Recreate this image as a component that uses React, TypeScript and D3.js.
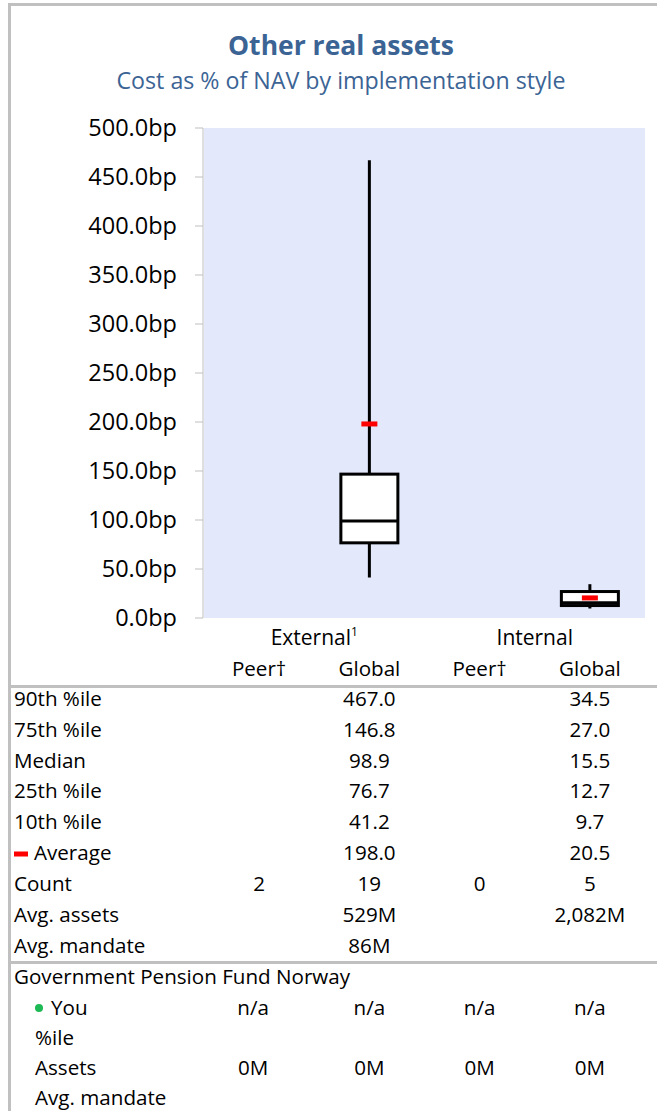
import React from "react";
import * as d3 from "d3";

const columns = ["ExtPeer", "ExtGlobal", "IntPeer", "IntGlobal"];
const groups = [
  { label: "External", sup: "1", cols: ["ExtPeer", "ExtGlobal"] },
  { label: "Internal", sup: "", cols: ["IntPeer", "IntGlobal"] },
];
const colHeaders = ["Peer†", "Global", "Peer†", "Global"];
const yTicks = [0, 50, 100, 150, 200, 250, 300, 350, 400, 450, 500];

// box stats (bp) per column, null = no box
const p90 = [null, 467.0, null, 34.5];
const p75 = [null, 146.8, null, 27.0];
const median = [null, 98.9, null, 15.5];
const p25 = [null, 76.7, null, 12.7];
const p10 = [null, 41.2, null, 9.7];
const average = [null, 198.0, null, 20.5];
const counts = ["2", "19", "0", "5"];
const avgAssets = ["", "529M", "", "2,082M"];
const avgMandate = ["", "86M", "", ""];
const youValues = ["n/a", "n/a", "n/a", "n/a"];
const youPctile = ["", "", "", ""];
const youAssets = ["0M", "0M", "0M", "0M"];
const youMandate = ["", "", "", ""];

const fmt = (v: number | null) => (v == null ? "" : v.toFixed(1));

const FONT = "'Open Sans', Lato, sans-serif";
const BLUE = "#3B6495";
const TS = 20.6;

export default function App() {
  const W = 657, H = 1111;
  const plot = { left: 204, right: 645, top: 128, bottom: 618 };
  const y = d3.scaleLinear().domain([0, 500]).range([plot.bottom, plot.top]);
  const x = d3.scaleBand().domain(columns).range([plot.left, plot.right]).padding(0);
  const cx = (c: string) => (x(c) as number) + x.bandwidth() / 2;
  const boxW = 57;

  const statRows: { label: string; vals: string[]; marker?: boolean }[] = [
    { label: "90th %ile", vals: p90.map(fmt) },
    { label: "75th %ile", vals: p75.map(fmt) },
    { label: "Median", vals: median.map(fmt) },
    { label: "25th %ile", vals: p25.map(fmt) },
    { label: "10th %ile", vals: p10.map(fmt) },
    { label: "Average", vals: average.map(fmt), marker: true },
    { label: "Count", vals: counts },
    { label: "Avg. assets", vals: avgAssets },
    { label: "Avg. mandate", vals: avgMandate },
  ];
  const youRows: { label: string; vals: string[]; dot?: boolean }[] = [
    { label: "You", vals: youValues, dot: true },
    { label: "%ile", vals: youPctile },
    { label: "Assets", vals: youAssets },
    { label: "Avg. mandate", vals: youMandate },
  ];
  const rowStart = 699;
  const rowH = 30.9;

  return (
    <svg width={W} height={H} style={{ display: "block", position: "absolute", left: 0, top: 0 }} fontFamily={FONT}>
      <rect x={0} y={0} width={W} height={H} fill="#fff" />
      {/* frame */}
      <rect x={8} y={3} width={W - 8} height={3} fill="#C0C0C0" />
      <rect x={8} y={3} width={3} height={H - 3} fill="#C0C0C0" />

      {/* titles */}
      <text x={341} y={55} textAnchor="middle" fontSize={26.5} fontWeight="bold" fill={BLUE}>Other real assets</text>
      <text x={341} y={89} textAnchor="middle" fontSize={23.2} fill={BLUE}>Cost as % of NAV by implementation style</text>

      {/* plot bg */}
      <rect x={plot.left} y={plot.top} width={plot.right - plot.left} height={plot.bottom - plot.top} fill="#E3E8FB" />
      {/* axis */}
      <line x1={plot.left - 1} x2={plot.left - 1} y1={plot.top} y2={plot.bottom} stroke="#BFBFBF" strokeWidth={1} />
      {yTicks.map((t) => (
        <g key={t}>
          <line x1={plot.left - 9} x2={plot.left - 1} y1={y(t)} y2={y(t)} stroke="#BFBFBF" strokeWidth={1} />
          <text x={177} y={y(t)} dy="0.33em" textAnchor="end" fontSize={23.5} fill="#000">{t.toFixed(1)}bp</text>
        </g>
      ))}

      {/* boxes */}
      {columns.map((c, i) => {
        if (p90[i] == null) return null;
        const xc = cx(c);
        return (
          <g key={c}>
            <line x1={xc} x2={xc} y1={y(p90[i] as number)} y2={y(p10[i] as number)} stroke="#000" strokeWidth={3} />
            <rect x={xc - boxW / 2} y={y(p75[i] as number)} width={boxW} height={y(p25[i] as number) - y(p75[i] as number)} fill="#fff" stroke="#000" strokeWidth={3} />
            <line x1={xc - boxW / 2} x2={xc + boxW / 2} y1={y(median[i] as number)} y2={y(median[i] as number)} stroke="#000" strokeWidth={3} />
            <rect x={xc - 8} y={y(average[i] as number) - 2.5} width={16} height={5} fill="#FF0000" />
          </g>
        );
      })}

      {/* group labels */}
      {groups.map((g) => {
        const gx = (cx(g.cols[0]) + cx(g.cols[1])) / 2;
        return (
          <text key={g.label} x={gx} y={645} textAnchor="middle" fontSize={21} fill="#000">
            {g.label}
            {g.sup && <tspan fontSize={12} dy={-9}>{g.sup}</tspan>}
          </text>
        );
      })}
      {columns.map((c, i) => (
        <text key={c} x={cx(c)} y={676} textAnchor="middle" fontSize={TS} fill="#000">{colHeaders[i]}</text>
      ))}

      {/* separators */}
      <rect x={11} y={685} width={W - 11} height={3} fill="#C0C0C0" />
      <rect x={11} y={961} width={W - 11} height={3} fill="#C0C0C0" />

      {/* stats rows */}
      {statRows.map((r, ri) => {
        const yy = rowStart + ri * rowH;
        return (
          <g key={r.label}>
            {r.marker && <rect x={14} y={yy - 2} width={14} height={5} fill="#FF0000" />}
            <text x={r.marker ? 34 : 14} y={yy} dy="0.33em" fontSize={TS} fill="#000">{r.label}</text>
            {r.vals.map((v, ci) => (
              <text key={ci} x={cx(columns[ci])} y={yy} dy="0.33em" textAnchor="middle" fontSize={TS} fill="#000">{v}</text>
            ))}
          </g>
        );
      })}

      <text x={14} y={977} dy="0.33em" fontSize={TS} fill="#000">Government Pension Fund Norway</text>
      {youRows.map((r, ri) => {
        const yy = 1008 + ri * 30.1;
        return (
          <g key={r.label}>
            {r.dot && <circle cx={39} cy={yy} r={4} fill="#1DB954" />}
            <text x={r.dot ? 51 : 35} y={yy} dy="0.33em" fontSize={TS} fill="#000">{r.label}</text>
            {r.vals.map((v, ci) => (
              <text key={ci} x={cx(columns[ci]) - (ci === 0 ? 6 : 0)} y={yy} dy="0.33em" textAnchor="middle" fontSize={TS} fill="#000">{v}</text>
            ))}
          </g>
        );
      })}
    </svg>
  );
}
